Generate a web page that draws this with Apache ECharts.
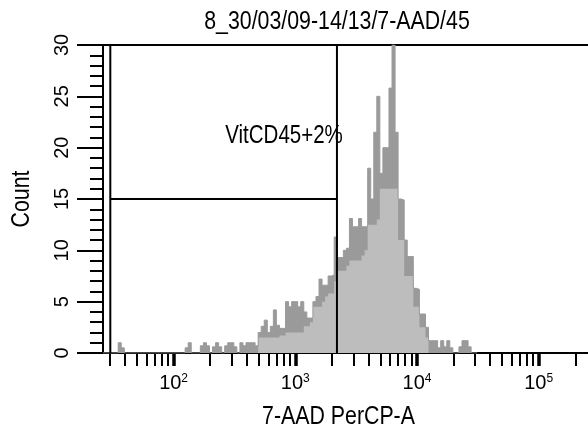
<!DOCTYPE html>
<html><head><meta charset="utf-8">
<script src="https://cdn.jsdelivr.net/npm/echarts@6/dist/echarts.min.js"></script>
<style>html,body{margin:0;padding:0;background:#fff}#c{width:588px;height:428px}</style>
</head><body><div id="c"></div>
<script>
// ---------- data ----------
const titleText = '8_30/03/09-14/13/7-AAD/45';
const xAxisName = '7-AAD PerCP-A';
const yAxisName = 'Count';
const gateLabel = 'VitCD45+2%';

// x axis (fluorescence intensity, log scale)
const xMinValue = 26.3;
const xMaxValue = 262144;
const xDecadeTicks = [100, 1000, 10000, 100000];
const xMinorTicks = [30, 40, 50, 60, 70, 80, 90,
  200, 300, 400, 500, 600, 700, 800, 900,
  2000, 3000, 4000, 5000, 6000, 7000, 8000, 9000,
  20000, 30000, 40000, 50000, 60000, 70000, 80000, 90000,
  200000];
// y axis
const yMin = 0, yMax = 30, yStep = 5;

// histogram bins: first bin edge (intensity) and bin width (decades)
const binFirstEdge = 26.3;
const binWidthDecades = 0.025;
// counts per bin (upper envelope, dark) and inner fill (light)
const countsOuter = [
  0, 0, 0, 0, 0, 1, 0.5, 0, 0, 0,
  0, 0, 0, 0, 0, 0, 0, 0, 0, 0,
  0, 0, 0, 0, 0, 0, 0, 0.5, 1, 0,
  0, 0, 0.7, 1, 0.7, 0, 0.6, 1, 0.6, 0,
  0.7, 1, 1, 0.6, 0, 1, 0.7, 1, 1, 1,
  0.7, 2, 2.6, 3.2, 2, 2.6, 4.2, 2.7, 2.4, 2.4,
  5, 4.5, 5, 5, 4.5, 5, 4, 3.4, 3.4, 5,
  5.5, 7.2, 6.6, 6.6, 7.5, 7.6, 11.3, 9.3, 9.3, 10,
  10.2, 13.1, 12.3, 12.3, 13.1, 12.3, 12.3, 18, 15, 21.5,
  25, 17.5, 20, 20, 25.8, 30, 21.5, 15, 14.9, 11,
  9.4, 9.4, 6.3, 6.2, 3.8, 3.8, 2.5, 1.2, 1.2, 1.2,
  0.5, 1.2, 0.6, 1.2, 0.5, 0, 0, 0.6, 1.2, 1.2,
  0.6, 0, 0
];
const countsInner = [
  0, 0, 0, 0, 0, 0, 0, 0, 0, 0,
  0, 0, 0, 0, 0, 0, 0, 0, 0, 0,
  0, 0, 0, 0, 0, 0, 0, 0, 0, 0,
  0, 0, 0, 0, 0, 0, 0, 0, 0, 0,
  0, 0, 0, 0, 0, 0, 0, 0, 0, 0,
  0, 1.5, 1.5, 1.5, 1.5, 1.5, 1.5, 1.5, 1.7, 1.7,
  2, 2, 2, 2, 2, 2, 2.6, 2.6, 3, 4.5,
  4.5, 4.5, 5, 5.5, 5.8, 5.8, 7, 8, 8, 8,
  8.5, 9, 9, 9, 9, 9.5, 10, 12.5, 12.5, 12.5,
  13, 16, 16, 16, 16, 16, 16, 11, 11, 7.5,
  7.5, 7.5, 4.5, 4.5, 2.5, 2.5, 1.5, 0, 0, 0,
  0, 0, 0, 0, 0, 0, 0, 0, 0, 0,
  0, 0, 0
];
// gate
const gateLow = 30.2, gateHigh = 2200, gateLevel = 15;

// ---------- chart ----------
const FONT = '"Liberation Sans",Arial,sans-serif';
const NARROW = 0.82;
const lg = Math.log10;
const xMinL = lg(xMinValue), xMaxL = lg(xMaxValue);
const binEdge0 = lg(binFirstEdge);

function stepData(arr) {
  const d = arr.map((c, i) => [binEdge0 + i * binWidthDecades, c]);
  d.push([binEdge0 + arr.length * binWidthDecades, 0]);
  return d;
}

const gridRect = { left: 103, top: 45, width: 486.6, height: 308 };

const chart = echarts.init(document.getElementById('c'), null, { renderer: 'canvas' });
chart.setOption({
  animation: false,
  backgroundColor: '#fff',
  grid: [
    Object.assign({ show: true, borderColor: '#000', borderWidth: 2, backgroundColor: 'transparent', outerBoundsMode: 'none', containLabel: false }, gridRect),
    Object.assign({ show: false, outerBoundsMode: 'none', containLabel: false }, gridRect)
  ],
  xAxis: [{
    type: 'value', gridIndex: 0, min: xMinL, max: xMaxL, position: 'bottom',
    axisLine: { show: true, onZero: false, lineStyle: { color: '#000', width: 2 } },
    axisTick: { show: true, inside: false, length: 13, customValues: xMinorTicks.map(lg), lineStyle: { color: '#000', width: 2 } },
    axisLabel: {
      show: true, margin: 20, customValues: xDecadeTicks.map(lg),
      formatter: v => '{b|10}{s|' + Math.round(v) + '}',
      rich: {
        b: { fontFamily: FONT, fontSize: 20, color: '#000' },
        s: { fontFamily: FONT, fontSize: 12, color: '#000', verticalAlign: 'top' }
      }
    },
    splitLine: { show: false }
  }, {
    type: 'value', gridIndex: 1, min: xMinL, max: xMaxL, position: 'bottom',
    axisLine: { show: false },
    axisTick: { show: true, inside: false, length: 13, customValues: xDecadeTicks.map(lg), lineStyle: { color: '#000', width: 3.5 } },
    axisLabel: { show: false },
    splitLine: { show: false }
  }],
  yAxis: [{
    type: 'value', gridIndex: 0, min: yMin, max: yMax, interval: yStep,
    axisLine: { show: true, lineStyle: { color: '#000', width: 2 } },
    axisTick: { show: true, inside: false, length: 26, lineStyle: { color: '#000', width: 2 } },
    minorTick: { show: true, splitNumber: 5, length: 13, lineStyle: { color: '#000', width: 2 } },
    axisLabel: { show: true, rotate: 90, margin: 31, fontFamily: FONT, fontSize: 20, color: '#000' },
    splitLine: { show: false }, minorSplitLine: { show: false }
  }, {
    type: 'value', gridIndex: 1, min: yMin, max: yMax, show: false
  }],
  graphic: [
    { type: 'text', x: 337, y: 22, scaleX: NARROW, silent: true,
      style: { text: titleText, font: '26px ' + FONT, fill: '#000', textAlign: 'center', textVerticalAlign: 'middle' } },
    { type: 'text', x: 338.5, y: 417, scaleX: NARROW, silent: true,
      style: { text: xAxisName, font: '26px ' + FONT, fill: '#000', textAlign: 'center', textVerticalAlign: 'middle' } },
    { type: 'text', x: 22, y: 199, rotation: Math.PI / 2, scaleX: NARROW, silent: true,
      style: { text: yAxisName, font: '26px ' + FONT, fill: '#000', textAlign: 'center', textVerticalAlign: 'middle' } },
    { type: 'text', x: 284, y: 136, scaleX: NARROW, silent: true,
      style: { text: gateLabel, font: '25px ' + FONT, fill: '#000', textAlign: 'center', textVerticalAlign: 'middle' } }
  ],
  series: [
    { type: 'line', name: 'outer', xAxisIndex: 0, yAxisIndex: 0, step: 'end', symbol: 'none', silent: true,
      data: stepData(countsOuter),
      lineStyle: { color: '#9a9a9a', width: 1 }, areaStyle: { color: '#9a9a9a', opacity: 1 } },
    { type: 'line', name: 'inner', xAxisIndex: 0, yAxisIndex: 0, step: 'end', symbol: 'none', silent: true,
      data: stepData(countsInner),
      lineStyle: { width: 0, color: '#bdbdbd' }, areaStyle: { color: '#bdbdbd', opacity: 1 } },
    { type: 'line', name: 'gateL', xAxisIndex: 0, yAxisIndex: 0, symbol: 'none', silent: true,
      data: [[lg(gateLow), yMin], [lg(gateLow), yMax]], lineStyle: { color: '#000', width: 2 } },
    { type: 'line', name: 'gateH', xAxisIndex: 0, yAxisIndex: 0, symbol: 'none', silent: true,
      data: [[lg(gateHigh), yMin], [lg(gateHigh), yMax]], lineStyle: { color: '#000', width: 2 } },
    { type: 'line', name: 'gateBar', xAxisIndex: 0, yAxisIndex: 0, symbol: 'none', silent: true,
      data: [[lg(gateLow), gateLevel], [lg(gateHigh), gateLevel]], lineStyle: { color: '#000', width: 2 } }
  ]
});
</script></body></html>
